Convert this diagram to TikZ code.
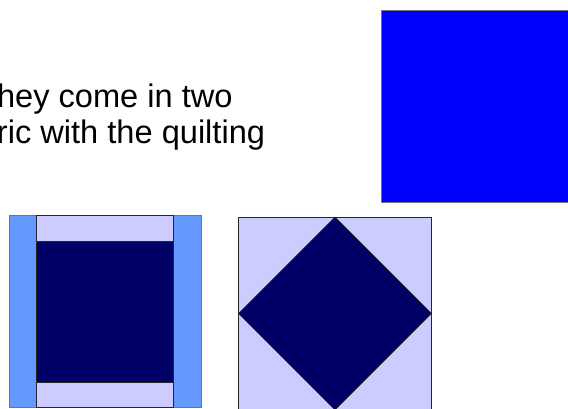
\documentclass[tikz,border=0pt]{standalone}
\usepackage{fontspec}
\setmainfont{Liberation Sans}
\definecolor{fabricblue}{HTML}{0000FF}
\definecolor{navy}{HTML}{000066}
\definecolor{lilac}{HTML}{CCCCFF}
\definecolor{sky}{HTML}{6699FF}

\begin{document}
\begin{tikzpicture}[x=1pt, y=-1pt,
  txt/.style={font=\fontsize{32.6}{39}\selectfont, inner sep=0pt, anchor=base east},
  patch/.style={draw=black!85, line width=0.6pt},
  rim/.style={patch, draw=black!55},
]
\useasboundingbox (0,0) rectangle (568,409);
\clip (0,0) rectangle (568,409);

% text, cut at the left edge
\node[txt] (lineone) at (232.8,108) {They come in two};
\node[txt] (linetwo) at (265.3,144) {ric with the quilting};

% plain square of fabric
\filldraw[rim, fill=fabricblue] (381.5,10) rectangle (573.5,202);

% block with side strips
\filldraw[rim, fill=sky] (9,215.5) rectangle (36.5,407);
\filldraw[rim, fill=sky] (173.5,215.5) rectangle (201,407);
\filldraw[patch, fill=lilac] (36.5,215.5) rectangle (173.5,241.5);
\filldraw[patch, fill=lilac] (36.5,382) rectangle (173.5,407);
\filldraw[patch, fill=navy] (36.5,241.5) rectangle (173.5,382);

% square in a square
\filldraw[patch, fill=lilac] (238.5,217) rectangle (431.5,410);
\filldraw[patch, fill=navy] (335,217) -- (431.5,313.5) -- (335,410) -- (238.5,313.5) -- cycle;
\end{tikzpicture}
\end{document}
